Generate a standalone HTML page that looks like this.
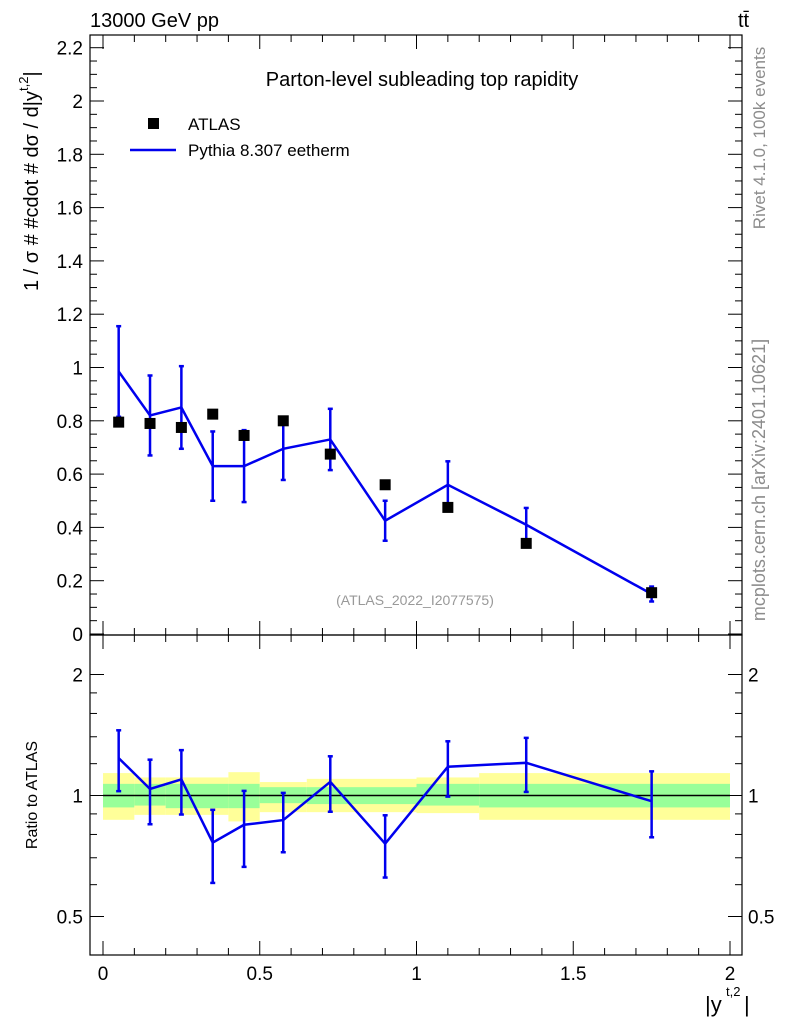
<!DOCTYPE html>
<html><head><meta charset="utf-8"><style>
body{margin:0;background:#fff;}
svg text{font-family:"Liberation Sans",sans-serif;}
</style></head><body>
<svg id="c" width="786" height="1024" xmlns="http://www.w3.org/2000/svg"></svg>
<script>
const centers=[0.05,0.15,0.25,0.35,0.45,0.575,0.725,0.9,1.1,1.35,1.75];
const atlas=[0.795,0.79,0.775,0.825,0.745,0.80,0.675,0.56,0.475,0.34,0.155];
const pythia=[0.985,0.82,0.85,0.63,0.63,0.695,0.73,0.425,0.56,0.41,0.15];
const pythiaErr=[0.17,0.15,0.155,0.13,0.135,0.117,0.115,0.075,0.088,0.063,0.028];
const bandEdges=[0,0.1,0.2,0.4,0.5,0.65,1.0,1.2,2.0];
const yellowHi=[1.137,1.109,1.109,1.143,1.080,1.100,1.109,1.137];
const yellowLo=[0.870,0.895,0.895,0.862,0.909,0.909,0.904,0.870];
const greenHi=[1.069,1.069,1.069,1.069,1.049,1.049,1.069,1.069];
const greenLo=[0.934,0.944,0.930,0.930,0.957,0.952,0.944,0.934];
const yTicks=[0,0.2,0.4,0.6,0.8,1,1.2,1.4,1.6,1.8,2,2.2];
const xTicks=[0,0.5,1,1.5,2];

const L=90,R=742,T=35,M=635,B=955;
const X=v=>103+v*313.5;
const Y=v=>634-v*266.5;
const RY=v=>795.5-Math.log2(v)*121;
const svg=document.getElementById('c');
const NS='http://www.w3.org/2000/svg';
function mk(tag,attrs,name,parent){const e=document.createElementNS(NS,tag);for(const k in attrs)e.setAttribute(k,attrs[k]);


(parent||svg).appendChild(e);return e;}
function txt(s,x,y,size,name,extra){const t=mk('text',Object.assign({x:x,y:y,'font-size':size},extra||{}),name);t.textContent=s;return t;}

for(let i=0;i<bandEdges.length-1;i++){
 const x0=X(bandEdges[i]),x1=X(bandEdges[i+1]);
 mk('rect',{x:x0,y:RY(yellowHi[i]),width:x1-x0,height:RY(yellowLo[i])-RY(yellowHi[i]),fill:'#ffff99'},'syst-band');
 mk('rect',{x:x0,y:RY(greenHi[i]),width:x1-x0,height:RY(greenLo[i])-RY(greenHi[i]),fill:'#99ff99'},'stat-band');
}
mk('line',{x1:X(0),x2:X(2),y1:RY(1),y2:RY(1),stroke:'#000','stroke-width':1.5},'ratio-unity-line');

mk('rect',{x:L,y:T,width:R-L,height:M-T,fill:'none',stroke:'#000','stroke-width':1.2},'main-frame');
mk('rect',{x:L,y:M,width:R-L,height:B-M,fill:'none',stroke:'#000','stroke-width':1.2},'ratio-frame');

for(let v=0;v<=2.25;v+=0.05){const y=Y(v);if(y<T)break;const maj=Math.abs(v*5-Math.round(v*5))<1e-6;const len=maj?14:7;
 mk('line',{x1:L,x2:L+len,y1:y,y2:y,stroke:'#000'},'y-tick');mk('line',{x1:R,x2:R-len,y1:y,y2:y,stroke:'#000'},'y-tick-right');}
yTicks.forEach(v=>txt(String(Math.round(v*10)/10),83,Y(v)+7,19,'y-tick-label',{'text-anchor':'end'}));
[0.5,0.6,0.7,0.8,0.9,1,1.2,1.4,1.6,1.8,2].forEach(v=>{const y=RY(v);const maj=(v==0.5||v==1||v==2);const len=maj?14:7;
 mk('line',{x1:L,x2:L+len,y1:y,y2:y,stroke:'#000'},'ratio-y-tick');mk('line',{x1:R,x2:R-len,y1:y,y2:y,stroke:'#000'},'ratio-y-tick-right');});
[[0.5,'0.5'],[1,'1'],[2,'2']].forEach(a=>{txt(a[1],83,RY(a[0])+7,19,'ratio-y-label',{'text-anchor':'end'});txt(a[1],748,RY(a[0])+7,19,'ratio-y-label-right');});
for(let v=0;v<=2.001;v+=0.1){const x=X(v);const maj=Math.abs(v*2-Math.round(v*2))<1e-6;const len=maj?14:7;
 [[M,-1],[T,1],[B,-1],[M,1]].forEach(p=>mk('line',{x1:x,x2:x,y1:p[0],y2:p[0]+p[1]*len,stroke:'#000'},'x-tick'));}
xTicks.forEach(v=>txt(String(v),X(v),980,19,'x-tick-label',{'text-anchor':'middle'}));

const pts=centers.map((c,i)=>X(c)+','+Y(pythia[i])).join(' ');
mk('polyline',{points:pts,fill:'none',stroke:'#0000ee','stroke-width':2.5},'pythia-line');
centers.forEach((c,i)=>{const x=X(c);
 mk('line',{x1:x,x2:x,y1:Y(pythia[i]+pythiaErr[i]),y2:Y(pythia[i]-pythiaErr[i]),stroke:'#0000ee','stroke-width':2.5},'pythia-errorbar');
 [1,-1].forEach(s=>mk('line',{x1:x-2.5,x2:x+2.5,y1:Y(pythia[i]+s*pythiaErr[i]),y2:Y(pythia[i]+s*pythiaErr[i]),stroke:'#0000ee','stroke-width':2.5},'pythia-errorcap'));
 mk('rect',{x:x-5.5,y:Y(atlas[i])-5.5,width:11,height:11,fill:'#000'},'atlas-point');
});
const rp=centers.map((c,i)=>X(c)+','+RY(pythia[i]/atlas[i])).join(' ');
mk('polyline',{points:rp,fill:'none',stroke:'#0000ee','stroke-width':2.5},'ratio-line');
centers.forEach((c,i)=>{const x=X(c),r=pythia[i]/atlas[i],e=pythiaErr[i]/atlas[i];
 mk('line',{x1:x,x2:x,y1:RY(r+e),y2:RY(r-e),stroke:'#0000ee','stroke-width':2.5},'ratio-errorbar');
 [r+e,r-e].forEach(v=>mk('line',{x1:x-2.5,x2:x+2.5,y1:RY(v),y2:RY(v),stroke:'#0000ee','stroke-width':2.5},'ratio-errorcap'));
});

txt('13000 GeV pp',90,27,20,'energy-label');
txt('tt̄',738,27,20,'process-label');
txt('Parton-level subleading top rapidity',422,86,20,'plot-title',{'text-anchor':'middle'});
mk('rect',{x:148,y:118,width:11,height:11,fill:'#000'},'legend-atlas-marker');
txt('ATLAS',188,130,17,'legend-atlas-label');
mk('line',{x1:130,x2:176,y1:150,y2:150,stroke:'#0000ee','stroke-width':2.5},'legend-pythia-line');
txt('Pythia 8.307 eetherm',188,156,17,'legend-pythia-label');
txt('(ATLAS_2022_I2077575)',415,605,14,'analysis-id',{'text-anchor':'middle',fill:'#999'});
const yt=mk('text',{x:0,y:0,'font-size':20,transform:'translate(38,291) rotate(-90)'},'y-axis-title');
yt.innerHTML='1 / σ # #cdot # dσ / d|y<tspan font-size="13" dy="-10">t,2</tspan><tspan dy="10">|</tspan>';
txt('Ratio to ATLAS',0,0,16,'ratio-axis-title',{transform:'translate(37,795) rotate(-90)','text-anchor':'middle'});
txt('|y',705,1012,22,'x-axis-title');
txt('t,2',726,996,13,'x-axis-title-sup');
txt('|',744,1012,22,'x-axis-title-end');
txt('Rivet 4.1.0,  100k events',0,0,17,'rivet-label',{transform:'translate(765,138) rotate(-90)','text-anchor':'middle',fill:'#8c8c8c'});
txt('mcplots.cern.ch [arXiv:2401.10621]',0,0,18,'mcplots-label',{transform:'translate(765,480) rotate(-90)','text-anchor':'middle',fill:'#8c8c8c'});
</script>
</body></html>
